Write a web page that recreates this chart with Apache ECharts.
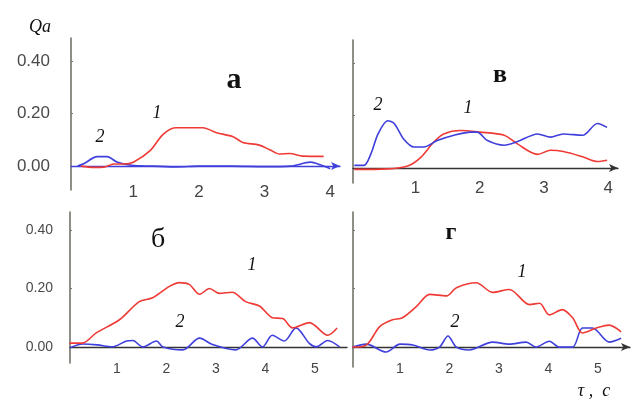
<!DOCTYPE html>
<html>
<head>
<meta charset="utf-8">
<script src="https://cdn.jsdelivr.net/npm/echarts@6/dist/echarts.min.js"></script>
<style>
html, body { margin: 0; padding: 0; background: #fff; }
#chart { width: 634px; height: 401px; }
</style>
</head>
<body>
<div id="chart"></div>
<script>
// panel а
var aT1 = [0.2, 0.4, 0.55, 0.7, 0.85, 1.0, 1.26, 1.45, 1.64, 2.06, 2.27, 2.52, 2.67, 2.92, 3.08, 3.23, 3.38, 3.58, 3.9];
var aV1 = [0, -0.005, -0.004, 0.008, 0.008, 0.015, 0.06, 0.12, 0.146, 0.146, 0.127, 0.112, 0.09, 0.08, 0.062, 0.046, 0.048, 0.038, 0.037];
var aT2 = [0.15, 0.25, 0.45, 0.6, 0.75, 0.97, 1.3, 1.67, 2.0, 2.5, 3.0, 3.4, 3.7, 3.85, 4.0];
var aV2 = [0, 0.01, 0.036, 0.036, 0.016, 0.003, 0, -0.003, 0, 0, -0.002, 0, 0.015, 0.005, -0.01];

// panel в
var vT1 = [0.05, 0.57, 0.88, 1.08, 1.29, 1.44, 1.7, 2.0, 2.38, 2.58, 2.9, 3.1, 3.3, 3.6, 3.83, 3.98];
var vV1 = [-0.005, -0.003, 0.008, 0.04, 0.1, 0.13, 0.143, 0.137, 0.125, 0.093, 0.052, 0.068, 0.063, 0.043, 0.025, 0.03];
var vT2 = [0.05, 0.2, 0.31, 0.42, 0.57, 0.67, 0.82, 0.98, 1.13, 1.34, 1.6, 1.86, 1.96, 2.12, 2.38, 2.58, 2.9, 3.1, 3.3, 3.6, 3.83, 3.98];
var vV2 = [0.01, 0.01, 0.055, 0.13, 0.18, 0.17, 0.11, 0.08, 0.08, 0.105, 0.125, 0.137, 0.137, 0.105, 0.087, 0.1, 0.13, 0.118, 0.13, 0.125, 0.17, 0.155];

// panel б
var bT1 = [0.04, 0.3, 0.58, 1.05, 1.45, 1.72, 2.06, 2.26, 2.46, 2.67, 2.87, 3.07, 3.33, 3.6, 3.88, 4.14, 4.35, 4.55, 4.89, 5.26, 5.45];
var bV1 = [0.013, 0.013, 0.048, 0.093, 0.155, 0.168, 0.207, 0.22, 0.214, 0.18, 0.2, 0.183, 0.187, 0.155, 0.14, 0.1, 0.097, 0.065, 0.083, 0.04, 0.065];
var bT2 = [0.05, 0.3, 0.6, 0.9, 1.19, 1.32, 1.52, 1.8, 1.93, 2.33, 2.67, 2.93, 3.4, 3.74, 3.94, 4.14, 4.38, 4.62, 4.89, 5.03, 5.26, 5.5];
var bV2 = [-0.003, 0.01, 0.007, 0, 0.02, 0.022, 0, 0.02, 0, -0.01, 0.03, 0.008, -0.01, 0.03, 0, 0.04, 0.02, 0.065, 0.012, 0, 0.022, 0];

// panel г
var gT1 = [0.04, 0.32, 0.59, 0.85, 1.05, 1.33, 1.6, 1.94, 2.14, 2.54, 2.87, 3.21, 3.62, 3.82, 4.02, 4.28, 4.49, 4.69, 4.97, 5.23, 5.47];
var gV1 = [0, 0.007, 0.07, 0.093, 0.1, 0.138, 0.18, 0.175, 0.203, 0.22, 0.187, 0.197, 0.145, 0.15, 0.11, 0.128, 0.1, 0.048, 0.065, 0.075, 0.052];
var gT2 = [0.04, 0.32, 0.72, 1.0, 1.26, 1.6, 1.8, 1.97, 2.14, 2.4, 2.87, 3.21, 3.55, 3.75, 4.02, 4.22, 4.49, 4.69, 4.89, 5.23, 5.47];
var gV2 = [0, 0.01, -0.017, 0.01, 0.007, -0.01, 0, 0.038, 0, -0.01, 0.017, 0.01, 0.017, 0, 0.02, 0, 0, 0.065, 0.065, 0.017, 0.03];

var yTicks = [0, 0.2, 0.4];
var xTicksTop = [1, 2, 3, 4];
var xTicksBottom = [1, 2, 3, 4, 5];

var RED = '#ee3b36';
var BLUE = '#3f3fdc';

function pairs(t, v) {
    return t.map(function (x, i) { return [x, v[i]]; });
}

function line(idx, t, v, color) {
    return {
        type: 'line',
        xAxisIndex: idx,
        yAxisIndex: idx,
        data: pairs(t, v),
        smooth: 0.3,
        showSymbol: false,
        lineStyle: { color: color, width: 1.6 },
        silent: true,
        animation: false
    };
}

// labels sit under the grid bottom, not under the zero line, so margins are negative
function xAxis(idx, min, max, ticks, margin, fontSize, color, arrow) {
    return {
        type: 'value',
        gridIndex: idx,
        min: min,
        max: max,
        axisLine: {
            onZero: true,
            lineStyle: { color: color, width: 1.3 },
            symbol: arrow ? ['none', 'arrow'] : ['none', 'none'],
            symbolSize: [6, 9]
        },
        axisTick: { show: false },
        splitLine: { show: false },
        axisLabel: {
            customValues: ticks,
            margin: margin,
            color: '#444',
            fontSize: fontSize,
            fontFamily: 'Liberation Sans'
        }
    };
}

function yAxis(idx, min, max, showLabels, margin, fontSize) {
    return {
        type: 'value',
        gridIndex: idx,
        min: min,
        max: max,
        axisLine: { show: true, lineStyle: { color: '#6a6a5e', width: 1.5 } },
        axisTick: { show: true, inside: true, length: 2, customValues: [0.2, 0.4], lineStyle: { color: '#777' } },
        splitLine: { show: false },
        axisLabel: {
            show: showLabels,
            customValues: yTicks,
            margin: margin,
            color: '#4a4a4a',
            fontSize: fontSize,
            fontFamily: 'Liberation Sans',
            formatter: function (v) { return v.toFixed(2); }
        }
    };
}

function txt(x, y, s, size, weight, style) {
    return {
        type: 'text',
        x: x,
        y: y,
        style: {
            text: s,
            fontSize: size,
            fontWeight: weight || 'normal',
            fontStyle: style || 'normal',
            fontFamily: 'Liberation Serif',
            fill: '#111',
            align: 'center',
            verticalAlign: 'middle'
        }
    };
}

var option = {
    backgroundColor: '#fff',
    grid: [
        { left: 71, top: 38, width: 269, height: 152 },
        { left: 353, top: 40, width: 265, height: 143 },
        { left: 70, top: 212, width: 277, height: 151 },
        { left: 353, top: 212, width: 277, height: 155 }
    ],
    xAxis: [
        xAxis(0, 0.05, 4.15, xTicksTop, -6, 17, BLUE, true),
        xAxis(1, 0.03, 4.15, xTicksTop, -3, 17, '#333', true),
        xAxis(2, 0.05, 5.65, xTicksBottom, -1, 14, '#333', false),
        xAxis(3, 0.05, 5.65, xTicksBottom, -5, 14, '#333', true)
    ],
    yAxis: [
        yAxis(0, -0.091, 0.488, true, 21, 17),
        yAxis(1, -0.057, 0.488, false, 0, 17),
        yAxis(2, -0.055, 0.4615, true, 17, 14),
        yAxis(3, -0.068, 0.4615, false, 0, 14)
    ],
    series: [
        line(0, aT2, aV2, BLUE),
        line(0, aT1, aV1, RED),
        line(1, vT1, vV1, RED),
        line(1, vT2, vV2, BLUE),
        line(2, bT2, bV2, BLUE),
        line(2, bT1, bV1, RED),
        line(3, gT2, gV2, BLUE),
        line(3, gT1, gV1, RED)
    ],
    graphic: [
        txt(40, 27, 'Qa', 18, 'normal', 'italic'),
        txt(594, 391, 'τ ,  c', 18, 'normal', 'italic'),
        txt(234, 80, 'а', 30, 'bold'),
        txt(500, 75, 'в', 26, 'bold'),
        txt(158, 240, 'б', 28, 'normal'),
        txt(451, 233, 'г', 24, 'bold'),
        txt(157, 113, '1', 18, 'normal', 'italic'),
        txt(100, 137, '2', 18, 'normal', 'italic'),
        txt(378, 105, '2', 18, 'normal', 'italic'),
        txt(468, 108, '1', 18, 'normal', 'italic'),
        txt(252, 265, '1', 18, 'normal', 'italic'),
        txt(180, 322, '2', 18, 'normal', 'italic'),
        txt(522, 272, '1', 18, 'normal', 'italic'),
        txt(455, 322, '2', 18, 'normal', 'italic')
    ]
};

var myChart = echarts.init(document.getElementById('chart'));
myChart.setOption(option);
</script>
</body>
</html>
